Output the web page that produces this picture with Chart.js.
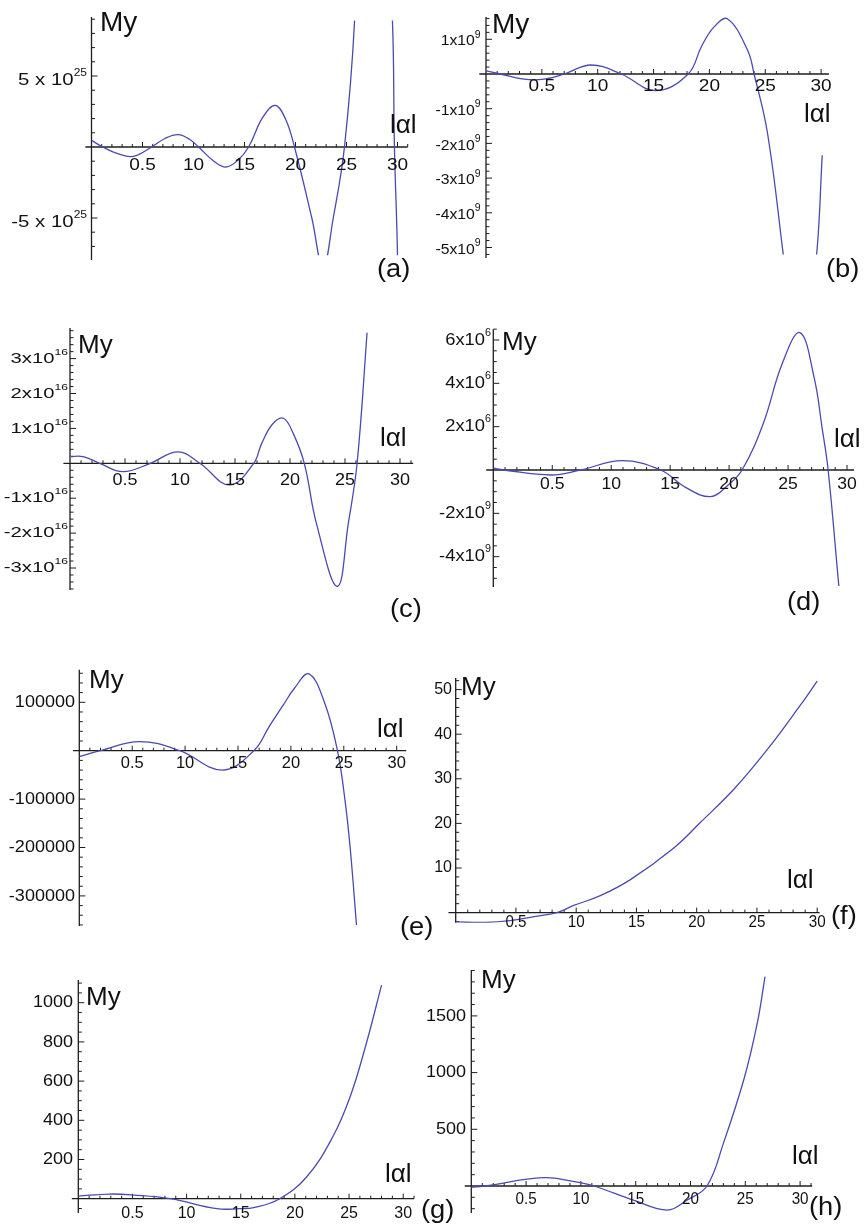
<!DOCTYPE html>
<html>
<head>
<meta charset="utf-8">
<title>My vs |α|</title>
<script src="https://cdn.jsdelivr.net/npm/chart.js"></script>
<style>
  body { margin: 0; background: #fff; }
  #wrap { position: relative; width: 868px; height: 1225px; }
  #wrap canvas { position: absolute; left: 0; top: 0; }
</style>
</head>
<body>
<div id="wrap"></div>
<script>
// x-axis ticks shared by all panels
const xTickVals = [5, 10, 15, 20, 25, 30];
const xTickText = ['0.5', '10', '15', '20', '25', '30'];

// (a)
const aX = [0, 1.1, 2.5, 4.1, 5.9, 7.2, 8.5, 9.6, 10.5, 12.0, 13.2, 14.4, 15.4, 16.8, 18.0, 19.0, 19.9, 21.6, 22.7, 23.7, 24.8, 25.8, 27.6, 29.5, 29.7, 30.0, 30.3];
const aY = [0.47e25, 0, -0.45e25, -0.66e25, 0, 0.6e25, 0.87e25, 0.55e25, 0, -1.0e25, -1.41e25, -0.9e25, 0, 2.1e25, 2.93e25, 2.0e25, 0, -5e25, -8.5e25, -5e25, 0, 9e25, 40e25, 9e25, 0, -7.7e25, -25e25];
const aTicks = [5e25, -5e25];
const aTickText = ['5 x 10', '-5 x 10'];
const aTickSup = ['25', '25'];

// (b)
const bX = [0, 1.3, 3.4, 5.2, 7.0, 9.4, 12.1, 15.2, 18.1, 19.3, 20.4, 21.6, 23.4, 24.0, 25.2, 26.6, 27.2, 28.2, 29.6, 30.1];
const bY = [0.09e9, 0, -0.15e9, -0.15e9, 0, 0.26e9, 0, -0.48e9, 0, 0.8e9, 1.35e9, 1.59e9, 0.7e9, 0, -1.7e9, -5.17e9, -6.8e9, -9e9, -5.2e9, -2.34e9];
const bTicks = [1e9, -1e9, -2e9, -3e9, -4e9, -5e9];
const bTickText = ['1x10', '-1x10', '-2x10', '-3x10', '-4x10', '-5x10'];
const bTickSup = ['9', '9', '9', '9', '9', '9'];

// (c)
const cX = [0, 1.2, 2.7, 4.8, 7.3, 9.8, 11.8, 14.5, 16.7, 17.4, 18.4, 19.4, 20.3, 21.3, 22.4, 24.3, 25.3, 26.1, 27.0, 27.4];
const cY = [0.19e16, 0.19e16, 0, -0.24e16, 0, 0.33e16, 0, -0.62e16, 0, 0.55e16, 1.12e16, 1.29e16, 0.85e16, 0, -1.72e16, -3.53e16, -1.72e16, 0, 3.72e16, 5.5e16];
const cTicks = [3e16, 2e16, 1e16, -1e16, -2e16, -3e16];
const cTickText = ['3x10', '2x10', '1x10', '-1x10', '-2x10', '-3x10'];
const cTickSup = ['16', '16', '16', '16', '16', '16'];

// (d)
const dX = [0, 0.9, 4.9, 7.4, 10.9, 14.2, 16.3, 18.4, 19.8, 21.1, 22.9, 24.5, 26.0, 27.2, 27.9, 28.4, 29.3, 29.6];
const dY = [0.08e9, 0, -0.23e9, 0, 0.43e9, 0, -0.8e9, -1.23e9, -0.75e9, 0, 2.15e9, 4.9e9, 6.34e9, 4.3e9, 1.9e9, 0, -5.3e9, -7e9];
const dTicks = [6e9, 4e9, 2e9, -2e9, -4e9];
const dTickText = ['6x10', '4x10', '2x10', '-2x10', '-4x10'];
const dTickSup = ['6', '6', '6', '9', '9'];

// (e)
const eX = [0, 2.0, 5.7, 9.5, 13.5, 16.5, 18.0, 19.3, 20.3, 21.7, 23.2, 24.4, 25.1, 25.6, 26.2];
const eY = [-12400, 0, 18600, 0, -40000, 0, 52000, 95000, 128000, 158600, 98000, 0, -100000, -200000, -360000];
const eTicks = [100000, -100000, -200000, -300000];
const eTickText = ['100000', '-100000', '-200000', '-300000'];

// (f)
const fX = [0, 2.5, 4.5, 6.5, 8.4, 9.8, 12.0, 14.5, 18.1, 20.3, 23.1, 25.9, 28.6, 30.0];
const fY = [-2.1, -2.2, -1.8, -0.9, 0, 1.6, 3.8, 7.4, 14.5, 20.2, 27.7, 36.7, 46.5, 51.9];
const fTicks = [10, 20, 30, 40, 50];
const fTickText = ['10', '20', '30', '40', '50'];

// (g)
const gX = [0, 2.9, 5.1, 8.5, 12.8, 14.9, 16.2, 18.6, 21.1, 23.5, 25.1, 26.6, 28.0];
const gY = [13.6, 23.8, 18.7, 0, -51, -51, -46, 0, 112, 316, 520, 793, 1090];
const gTicks = [200, 400, 600, 800, 1000];
const gTickText = ['200', '400', '600', '800', '1000'];

// (h)
const hX = [0, 1.2, 6.6, 9.4, 11.2, 14.8, 17.9, 19.7, 21.5, 23.0, 24.9, 26.1, 26.8];
const hY = [-12, 0, 73.5, 38, 0, -125, -212, -123, 0, 376, 950, 1440, 1847];
const hTicks = [500, 1000, 1500];
const hTickText = ['500', '1000', '1500'];

const W = 868, H = 1225;
const FONT = '"Liberation Sans", Arial, sans-serif';
const LINE = 'rgb(74, 74, 176)';

// panel placement: origin pixel, pixels per unit, clip range and text spots
const panels = [
  { tag: '(a)', xs: aX, ys: aY, ticks: aTicks, text: aTickText, sup: aTickSup, minor: 1e25,
    x0: 91.5, px: 10.2, y0: 147, py: 14.2 / 1e25, xEnd: 31.0, clip: [-7.62e25, 8.9e25], yAxis: [-7.96e25, 9.15e25],
    xDy: 18.5, xFont: 17, xSx: 1.12, yRight: 87, yDy: 4, yFont: 17, ySx: 1.2, supFont: 10,
    my: [100, 31, 28], al: [390, 133, 26], tagPos: [377, 277, 26] },
  { tag: '(b)', xs: bX, ys: bY, ticks: bTicks, text: bTickText, sup: bTickSup, minor: 0.2e9,
    x0: 486, px: 11.17, y0: 74, py: 34.7 / 1e9, xEnd: 30.7, clip: [-5.2e9, 1.64e9], yAxis: [-5.3e9, 1.64e9],
    xDy: 12, xFont: 17, xSx: 1.12, yRight: 480.7, yDy: 2, yFont: 15, ySx: 1.05, supFont: 10,
    my: [492, 33, 28], al: [804, 122, 26], tagPos: [826, 277, 26] },
  { tag: '(c)', xs: cX, ys: cY, ticks: cTicks, text: cTickText, sup: cTickSup, minor: 0.2e16,
    x0: 70, px: 11.0, y0: 463.3, py: 34.9 / 1e16, xEnd: 31.2, clip: [-3.63e16, 3.74e16], yAxis: [-3.63e16, 3.88e16],
    xDy: 16.7, xFont: 17, xSx: 1.06, yRight: 68, yDy: 0, yFont: 15, ySx: 1.35, supFont: 9,
    my: [78, 353, 26], al: [380, 446, 26], tagPos: [390, 617, 26] },
  { tag: '(d)', xs: dX, ys: dY, ticks: dTicks, text: dTickText, sup: dTickSup, minor: 0.5e9,
    x0: 493.3, px: 11.79, y0: 470, py: 21.67 / 1e9, xEnd: 30.6, clip: [-5.35e9, 6.5e9], yAxis: [-5.4e9, 6.5e9],
    xDy: 15, xFont: 16, xSx: 1.1, yRight: 491, yDy: 0, yFont: 17, ySx: 1.08, supFont: 10,
    my: [502, 350, 26], al: [834, 447, 26], tagPos: [787, 610, 26] },
  { tag: '(e)', xs: eX, ys: eY, ticks: eTicks, text: eTickText, sup: null, minor: 20000,
    x0: 79.3, px: 10.58, y0: 750.7, py: 48.4 / 1e5, xEnd: 30.9, clip: [-3.62e5, 1.67e5], yAxis: [-3.62e5, 1.67e5],
    xDy: 12.7, xFont: 17, xSx: 0.97, yRight: 75, yDy: 0, yFont: 17, ySx: 1.06, supFont: 10,
    my: [89, 688, 26], al: [377, 737, 26], tagPos: [400, 935, 26] },
  { tag: '(f)', xs: fX, ys: fY, ticks: fTicks, text: fTickText, sup: null, minor: 2,
    x0: 455.7, px: 12.05, y0: 912.6, py: 4.46, xEnd: 30.2, clip: [-2.3, 52.6], yAxis: [-2.3, 52.6],
    xDy: 10, xFont: 16, xSx: 0.95, yRight: 452, yDy: 0, yFont: 16, ySx: 1.0, supFont: 10,
    my: [461, 695, 26], al: [787, 888, 26], tagPos: [831, 924, 26] },
  { tag: '(g)', xs: gX, ys: gY, ticks: gTicks, text: gTickText, sup: null, minor: 50,
    x0: 78.3, px: 10.83, y0: 1198.7, py: 0.196, xEnd: 31.0, clip: [-73, 1116], yAxis: [-73, 1116],
    xDy: 15.3, xFont: 16, xSx: 1.0, yRight: 73, yDy: 0, yFont: 17, ySx: 1.06, supFont: 10,
    my: [86, 1005, 26], al: [385, 1182, 26], tagPos: [421, 1218, 26] },
  { tag: '(h)', xs: hX, ys: hY, ticks: hTicks, text: hTickText, sup: null, minor: 100,
    x0: 471.3, px: 10.96, y0: 1186, py: 0.1134, xEnd: 31.1, clip: [-238, 1905], yAxis: [-238, 1905],
    xDy: 14, xFont: 16, xSx: 0.95, yRight: 466, yDy: 0, yFont: 17, ySx: 1.06, supFont: 10,
    my: [481, 988, 26], al: [792, 1164, 26], tagPos: [809, 1215, 26] }
];

function txt(ctx, s, x, y, size, sx, align, base) {
  ctx.save();
  ctx.font = size + 'px ' + FONT;
  ctx.textAlign = align;
  ctx.textBaseline = base;
  ctx.translate(x, y);
  ctx.scale(sx, 1);
  ctx.fillText(s, 0, 0);
  ctx.restore();
}

function seg(ctx, x1, y1, x2, y2) {
  ctx.beginPath();
  ctx.moveTo(x1, y1);
  ctx.lineTo(x2, y2);
  ctx.stroke();
}

// Mathematica-style axes crossing at the origin
function axesPlugin(p) {
  return {
    id: 'originAxes',
    beforeDatasetsDraw(chart) {
      const ctx = chart.ctx;
      const X = v => chart.scales.x.getPixelForValue(v);
      const Y = v => chart.scales.y.getPixelForValue(v);
      const ax = X(0), ay = Y(0);
      ctx.save();
      ctx.strokeStyle = '#1e1e1e';
      ctx.lineWidth = 1.3;
      seg(ctx, X(-0.6), ay, X(p.xEnd), ay);
      seg(ctx, ax, Y(p.yAxis[0]), ax, Y(p.yAxis[1]));
      ctx.lineWidth = 1;
      for (let k = 1; k <= Math.floor(p.xEnd); k++) {
        const len = k % 5 === 0 ? 5 : 3;
        seg(ctx, X(k), ay, X(k), ay - len);
      }
      const lo = Math.ceil(p.yAxis[0] / p.minor), hi = Math.floor(p.yAxis[1] / p.minor);
      for (let k = lo; k <= hi; k++) {
        if (k === 0) continue;
        const v = k * p.minor;
        const major = p.ticks.some(t => Math.abs(t - v) < p.minor * 0.01);
        seg(ctx, ax, Y(v), ax + (major ? 6 : 3.5), Y(v));
      }
      ctx.restore();
    },
    afterDraw(chart) {
      const ctx = chart.ctx;
      const X = v => chart.scales.x.getPixelForValue(v);
      const Y = v => chart.scales.y.getPixelForValue(v);
      ctx.save();
      ctx.fillStyle = '#111';
      const ay = Y(0);
      xTickVals.forEach((v, i) => {
        txt(ctx, xTickText[i], X(v), ay + p.xDy, p.xFont, p.xSx, 'center', 'middle');
      });
      p.ticks.forEach((v, i) => {
        const yy = Y(v) + p.yDy;
        let right = p.yRight;
        if (p.sup) {
          ctx.font = p.supFont + 'px ' + FONT;
          const sw = ctx.measureText(p.sup[i]).width * p.ySx;
          txt(ctx, p.sup[i], right - sw, yy - p.yFont * 0.42, p.supFont, p.ySx, 'left', 'middle');
          right -= sw;
        }
        txt(ctx, p.text[i], right, yy, p.yFont, p.ySx, 'right', 'middle');
      });
      txt(ctx, 'My', p.my[0], p.my[1], p.my[2], 1, 'left', 'alphabetic');
      txt(ctx, 'lαl', p.al[0], p.al[1], p.al[2], 1, 'left', 'alphabetic');
      txt(ctx, p.tag, p.tagPos[0], p.tagPos[1], p.tagPos[2], 1.05, 'left', 'alphabetic');
      ctx.restore();
    }
  };
}

const wrap = document.getElementById('wrap');
panels.forEach(p => {
  const cv = document.createElement('canvas');
  cv.width = W;
  cv.height = H;
  wrap.appendChild(cv);
  const left = p.x0;
  const right = p.x0 + p.px * p.xEnd;
  const top = p.y0 - p.py * p.clip[1];
  const bottom = p.y0 - p.py * p.clip[0];
  new Chart(cv.getContext('2d'), {
    type: 'line',
    data: {
      datasets: [{
        data: p.xs.map((x, i) => ({ x: x, y: p.ys[i] })),
        borderColor: LINE,
        borderWidth: 1.3,
        pointRadius: 0,
        fill: false,
        tension: 0.4
      }]
    },
    options: {
      responsive: false,
      animation: false,
      devicePixelRatio: 1,
      elements: { line: { capBezierPoints: false } },
      layout: { padding: { left: left, right: W - right, top: top, bottom: H - bottom } },
      plugins: { legend: { display: false }, tooltip: { enabled: false } },
      scales: {
        x: { type: 'linear', min: 0, max: p.xEnd, display: false },
        y: { type: 'linear', min: p.clip[0], max: p.clip[1], display: false }
      }
    },
    plugins: [axesPlugin(p)]
  });
});
</script>
</body>
</html>
